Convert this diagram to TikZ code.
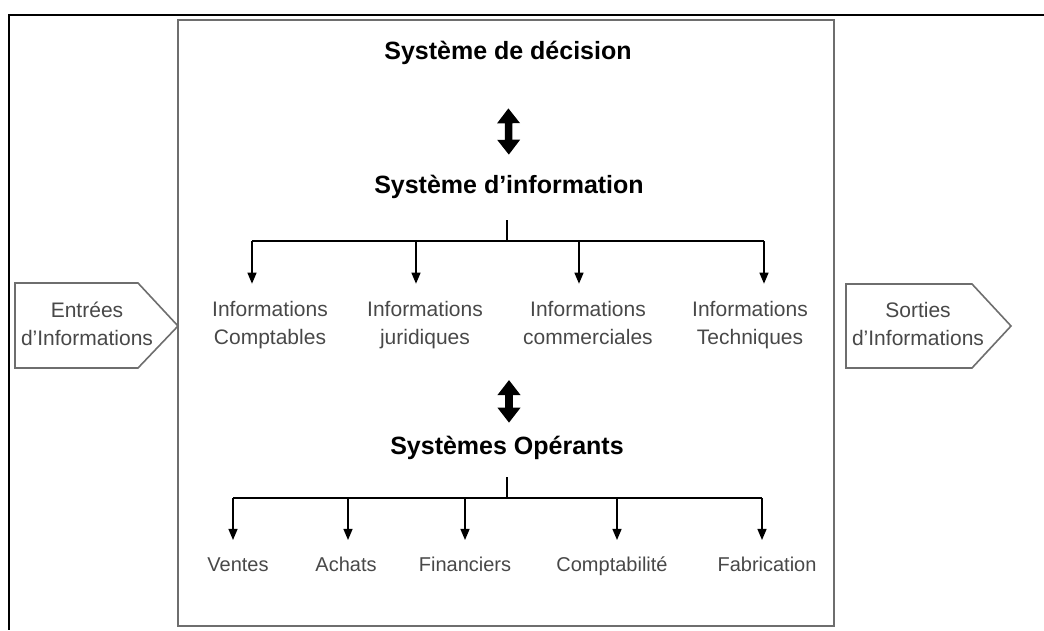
\documentclass[tikz,border=0pt]{standalone}
\usepackage{fontspec}
\setmainfont{Liberation Sans}
\usepackage{xcolor}
\usetikzlibrary{arrows.meta, positioning}
\definecolor{framegray}{HTML}{6E6E6E}
\definecolor{textgray}{HTML}{484848}

\begin{document}
\begin{tikzpicture}[
    x=1pt, y=-1pt,
    on grid,
    heading/.style={font=\fontsize{25}{30}\selectfont\bfseries},
    info/.style={align=center, text=textgray, font=\fontsize{21}{28}\selectfont,
                 execute at end node=\vphantom{pq}},
    dept/.style={text=textgray, font=\fontsize{20}{24}\selectfont, text height=15pt, text depth=4pt},
    flow/.style={draw=framegray, line width=1.6pt, fill=white},
    bar/.style={line width=1.3pt},
    branch/.style={line width=1.3pt, -{Triangle[width=9pt,length=11pt]}},
    twoway/.style={line width=7.5pt, {Triangle[width=22pt,length=15pt]}-{Triangle[width=22pt,length=15pt]}}
]
  \useasboundingbox (0,0) rectangle (1044,630);

  % page frame and system box
  \draw[line width=2.8pt] (1044,15) -- (9,15) -- (9,630);
  \draw[framegray, line width=2pt] (178,20) rectangle (834,626);

  % input / output arrows
  \draw[flow] (15,283) -- (138,283) -- (178,326) -- (138,368) -- (15,368) -- cycle;
  \draw[flow] (846,284) -- (972,284) -- (1011,326) -- (972,368) -- (846,368) -- cycle;
  \node[info] (in)  at (87,326)  {Entrées\\d'Informations};
  \node[info] (out) at (918,326) {Sorties\\d'Informations};

  % Main levels
  \node[heading] (dec)   at (508,53)  {Système de décision};
  \node[heading] (sinfo) at (509,187) {Système d'information};
  \node[heading] (sop)   at (507,448) {Systèmes Opérants};

  \draw[twoway, shorten <=40pt, shorten >=17pt] (dec.south) -- (sinfo.north);
  \draw[twoway, shorten <=30pt, shorten >=10pt] (sinfo.south |- 0,350) -- (sinfo.south |- sop.north);

  % Information types
  \node[info] (compta) at (270,325) {Informations\\Comptables};
  \node[info] (jur)    [right=155pt of compta] {Informations\\juridiques};
  \node[info] (comm)   [right=163pt of jur]    {Informations\\commerciales};
  \node[info] (tech)   [right=162pt of comm]   {Informations\\Techniques};

  \coordinate (hub1) at (507,241);
  \coordinate (i1) at (252,241);
  \coordinate (i2) at (416,241);
  \coordinate (i3) at (579,241);
  \coordinate (i4) at (764,241);
  \draw[bar] (hub1) -- ++(0,-21);
  \draw[bar] (i1) -- (i4);
  \path[branch]
    (i1) edge[shorten >=14pt] (i1 |- compta.north)
    (i2) edge[shorten >=14pt] (i2 |- jur.north)
    (i3) edge[shorten >=14pt] (i3 |- comm.north)
    (i4) edge[shorten >=14pt] (i4 |- tech.north);

  % Operating departments
  \node[dept] (ventes) at (238,566) {Ventes};
  \node[dept] (achats) [right=108pt of ventes] {Achats};
  \node[dept] (fin)    [right=119pt of achats] {Financiers};
  \node[dept] (cpt)    [right=147pt of fin]    {Comptabilité};
  \node[dept] (fab)    [right=155pt of cpt]    {Fabrication};

  \coordinate (hub2) at (507,498);
  \coordinate (o1) at (233,498);
  \coordinate (o2) at (348,498);
  \coordinate (o3) at (465,498);
  \coordinate (o4) at (617,498);
  \coordinate (o5) at (762,498);
  \draw[bar] (hub2) -- ++(0,-21);
  \draw[bar] (o1) -- (o5);
  \path[branch]
    (o1) edge[shorten >=13pt] (o1 |- ventes.north)
    (o2) edge[shorten >=13pt] (o2 |- achats.north)
    (o3) edge[shorten >=13pt] (o3 |- fin.north)
    (o4) edge[shorten >=13pt] (o4 |- cpt.north)
    (o5) edge[shorten >=13pt] (o5 |- fab.north);
\end{tikzpicture}
\end{document}
